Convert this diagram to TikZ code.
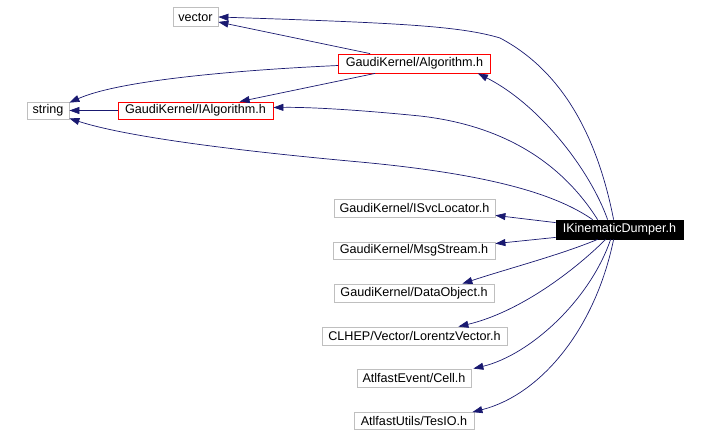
\documentclass[tikz,border=0pt]{standalone}
\usepackage{fontspec}
\setmainfont{Liberation Sans}
\usetikzlibrary{arrows.meta}
\definecolor{edgeblue}{HTML}{191970}
\definecolor{boxgray}{HTML}{BFBFBF}
\tikzset{
  box/.style={draw=boxgray, line width=0.8pt, inner sep=0pt, font=\fontsize{12.6}{14}\selectfont, text=black},
  redbox/.style={box, draw=red},
  darkbox/.style={box, draw=black, fill=black, text=white},
  dep/.style={draw=edgeblue, line width=0.7pt, -{Triangle[length=10pt,width=7pt]}},
}
\begin{document}
\begin{tikzpicture}[x=1pt,y=-1pt]
\useasboundingbox (0,0) rectangle (708,433);
\node[box, minimum width=45pt, minimum height=19pt] (vector) at (195.5,17) {vector};
\node[redbox, minimum width=152pt, minimum height=19pt] (alg) at (414.5,63.5) {GaudiKernel/Algorithm.h};
\node[box, minimum width=42pt, minimum height=17pt] (string) at (48,110.5) {string};
\node[redbox, minimum width=155pt, minimum height=17pt] (ialg) at (195.5,110.5) {GaudiKernel/IAlgorithm.h};
\node[darkbox, minimum width=127pt, minimum height=19pt] (dumper) at (619.5,229.5) {IKinematicDumper.h};
\node[box, minimum width=161pt, minimum height=18pt] (svc) at (414.5,208) {GaudiKernel/ISvcLocator.h};
\node[box, minimum width=162pt, minimum height=17pt] (msg) at (414,250.5) {GaudiKernel/MsgStream.h};
\node[box, minimum width=160pt, minimum height=18pt] (data) at (414,293) {GaudiKernel/DataObject.h};
\node[box, minimum width=185pt, minimum height=18pt] (lor) at (414.5,336) {CLHEP/Vector/LorentzVector.h};
\node[box, minimum width=114pt, minimum height=18pt] (cell) at (414,378) {AtlfastEvent/Cell.h};
\node[box, minimum width=120pt, minimum height=17pt] (tesio) at (414,421) {AtlfastUtils/TesIO.h};

% from IKinematicDumper.h
\draw[dep] ([xshift=58pt]dumper.north west) .. controls (600,150) and (570,75) .. (500,38)
  .. controls (460,26) and (400,23) .. (vector.east);
\draw[dep] ([xshift=52pt]dumper.north west) .. controls (590,170) and (540,105) .. ([xshift=-13pt]alg.south east);
\draw[dep] ([xshift=42pt]dumper.north west) .. controls (560,160) and (500,125) .. (420,116)
  .. controls (360,110) and (310,107) .. ([yshift=3pt]ialg.east);
\draw[dep] ([xshift=37pt]dumper.north west) .. controls (560,197) and (500,175) .. (360,162)
  .. controls (250,152) and (130,138) .. ([yshift=1pt]string.south east);
\draw[dep] ([yshift=-3pt]dumper.north west) -- ([yshift=2pt]svc.south east);
\draw[dep] ([yshift=2pt]dumper.south west) -- ([yshift=-2pt]msg.north east);
\draw[dep] ([xshift=42pt]dumper.south west) .. controls (560,255) and (510,268) .. ([xshift=-32pt]data.north east);
\draw[dep] ([xshift=50pt]dumper.south west) .. controls (575,270) and (520,312) .. ([xshift=-49pt]lor.north east);
\draw[dep] ([xshift=55pt]dumper.south west) .. controls (590,300) and (530,355) .. ([xshift=2pt]cell.north east);
\draw[dep] ([xshift=58pt]dumper.south west) .. controls (595,330) and (540,395) .. ([xshift=-2pt]tesio.north east);

% from GaudiKernel/Algorithm.h
\draw[dep] ([xshift=32pt]alg.north west) -- ([yshift=-5pt]vector.east);
\draw[dep] ([yshift=-2pt]alg.west) .. controls (240,70) and (120,80) .. ([yshift=-1pt]string.north east);
\draw[dep] ([xshift=37pt]alg.south west) -- ([xshift=122pt]ialg.north west);

% from GaudiKernel/IAlgorithm.h
\draw[dep] (ialg.west) -- (string.east);
\end{tikzpicture}
\end{document}
